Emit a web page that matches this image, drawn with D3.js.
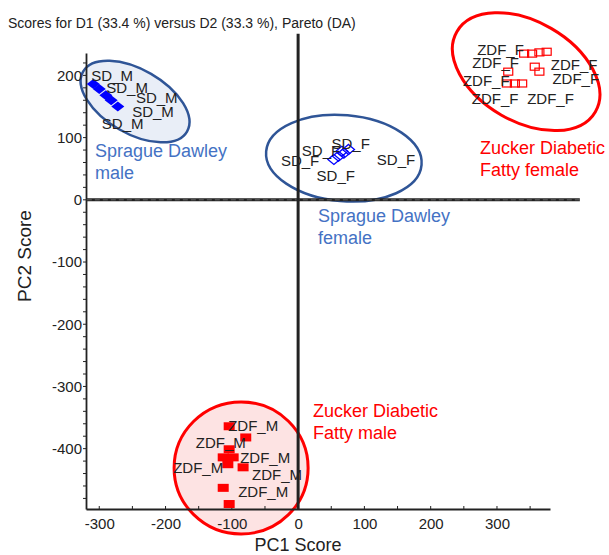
<!DOCTYPE html>
<html>
<head>
<meta charset="utf-8">
<script src="https://cdn.jsdelivr.net/npm/d3@7"></script>
<style>
  body { margin: 0; background: #fff; }
  text { font-family: "Liberation Sans", Arial, sans-serif; }
</style>
</head>
<body>
<svg id="chart" width="609" height="555"></svg>
<script>
// ---- score values (PC1, PC2) per group ----
const sdMaleX    = [-309, -300, -290, -282, -272];
const sdMaleY    = [186, 178, 168, 160, 150];
const sdFemaleX  = [54, 61, 69, 76, 66];
const sdFemaleY  = [65, 70, 75, 81, 78];
const zdfFemaleX = [341, 353, 364, 375, 357, 364, 317, 315, 327, 338];
const zdfFemaleY = [235, 235, 237, 238, 214, 206, 206, 187, 187, 187];
const zdfMaleX   = [-104, -79, -104, -113, -98, -106, -83, -113, -104];
const zdfMaleY   = [-364, -382, -401, -414, -414, -425, -430, -463, -489];

const sampleNames = ["SD_M", "SD_F", "ZDF_F", "ZDF_M"];
const groupTitles = [
  ["Sprague Dawley", "male"],
  ["Sprague Dawley", "female"],
  ["Zucker Diabetic", "Fatty female"],
  ["Zucker Diabetic", "Fatty male"]
];

const xTicks = [-300, -200, -100, 0, 100, 200, 300];
const yTicks = [-400, -300, -200, -100, 0, 100, 200];
const titleText = "Scores for D1 (33.4 %) versus D2 (33.3 %), Pareto (DA)";
const xTitle = "PC1 Score";
const yTitle = "PC2 Score";

// ---- layout ----
const W = 609, H = 555;
const x = d3.scaleLinear().domain([-320, 380]).range([86, 550]);
const y = d3.scaleLinear().domain([-497, 236]).range([509, 53]);

// label offsets (px) from each marker; null = no label drawn
const sdMaleLab    = [[-2, -9], [7, -1], [30, 2], [21, 11], [-16, 17]];
const sdFemaleLab  = [[-53, 1], [-22, 19], [-42, -3], [-17, -6], [35, 8]];
const zdfFemaleLab = [[-47, -4], null, null, null, [16, -2], [13, 7], [-36, -9], [-44, -3], [-43, 15], [5, 15]];
const zdfMaleLab   = [[-1, -1], [-50, 5], null, [-50, 10], [7, 0], null, [9, 7], [15, 4], null];

// group ellipses: centre in score units, radii/rotation in px/deg
const ellipses = [
  { cx: -246, cy: 158, rx: 60, ry: 32, rot: 30, fill: "#e9eef7", stroke: "#2f5597" },
  { cx: 69,   cy: 67,  rx: 78, ry: 43, rot: 5,  fill: "none",    stroke: "#2f5597" },
  { cx: 344,  cy: 206, rx: 80, ry: 50, rot: 30, fill: "none",    stroke: "#ff0000" },
  { cx: -86,  cy: -431, rx: 67, ry: 66, rot: 0, fill: "#fde3e3", stroke: "#ff0000" }
];
const titlePos = [[95, 157], [318, 222], [480, 154], [313, 417]];
const titleColors = ["#4472c4", "#4472c4", "#ff0000", "#ff0000"];

const svg = d3.select("#chart");
svg.append("rect").attr("width", W).attr("height", H).attr("fill", "#fff");

// ellipses
svg.append("g").selectAll("ellipse").data(ellipses).join("ellipse")
  .attr("transform", d => `translate(${x(d.cx)},${y(d.cy)}) rotate(${d.rot})`)
  .attr("rx", d => d.rx).attr("ry", d => d.ry)
  .attr("fill", d => d.fill).attr("stroke", d => d.stroke)
  .attr("stroke-width", (d, i) => i < 2 ? 2.5 : 3);

// axes (plain hyphen for negative tick labels)
const fmt = d => String(d);
const axisColor = "#222";
const xAxis = svg.append("g").attr("transform", `translate(0,${y(-497)})`)
  .call(d3.axisBottom(x).tickValues(xTicks).tickSize(0).tickPadding(9).tickFormat(fmt));
const xMinor = d3.range(-300, 351, 50);
svg.append("g").selectAll("line").data(xMinor).join("line")
  .attr("x1", d => x(d)).attr("x2", d => x(d))
  .attr("y1", y(-497)).attr("y2", y(-497) - 3)
  .attr("stroke", axisColor).attr("stroke-width", 1);

const yAxis = svg.append("g").attr("transform", `translate(${x(-320)},0)`)
  .call(d3.axisLeft(y).tickValues(yTicks).tickSize(0).tickPadding(4).tickFormat(fmt));
const yMinor = d3.range(-480, 231, 20);
svg.append("g").selectAll("line").data(yMinor).join("line")
  .attr("x1", x(-320)).attr("x2", x(-320) - 3)
  .attr("y1", d => y(d)).attr("y2", d => y(d))
  .attr("stroke", axisColor).attr("stroke-width", 1);

[xAxis, yAxis].forEach(g => {
  g.select(".domain").attr("stroke", axisColor).attr("stroke-width", 1.8);
  g.selectAll("text").attr("font-size", 15).attr("fill", "#222")
    .attr("font-family", '"Liberation Sans", Arial, sans-serif');
});

// zero reference lines
svg.append("line")
  .attr("x1", x(-320)).attr("x2", x(425)).attr("y1", y(0)).attr("y2", y(0))
  .attr("stroke", "#222").attr("stroke-width", 3);
svg.append("line")
  .attr("x1", x(425)).attr("x2", x(-320)).attr("y1", y(0)).attr("y2", y(0))
  .attr("stroke", "#777").attr("stroke-width", 0.8).attr("stroke-dasharray", "5,3");
svg.append("line")
  .attr("x1", x(0)).attr("x2", x(0)).attr("y1", y(-497)).attr("y2", y(267))
  .attr("stroke", "#222").attr("stroke-width", 3);

// markers
const diamondFilled = "M0,-5L6.5,0L0,5L-6.5,0Z";
const diamondOpen = "M0,-5L6,0L0,5L-6,0Z";
function pts(xs, ys) { return xs.map((v, i) => ({ x: v, y: ys[i] })); }

svg.append("g").selectAll("path").data(pts(sdMaleX, sdMaleY)).join("path")
  .attr("d", diamondFilled).attr("transform", d => `translate(${x(d.x)},${y(d.y)})`)
  .attr("fill", "#0000ff");
svg.append("g").selectAll("path").data(pts(sdFemaleX, sdFemaleY)).join("path")
  .attr("d", diamondOpen).attr("transform", d => `translate(${x(d.x)},${y(d.y)})`)
  .attr("fill", "none").attr("stroke", "#0000ff").attr("stroke-width", 1.3);
svg.append("g").selectAll("rect").data(pts(zdfFemaleX, zdfFemaleY)).join("rect")
  .attr("x", d => x(d.x) - 4.5).attr("y", d => y(d.y) - 3.5)
  .attr("width", 9).attr("height", 7)
  .attr("fill", "none").attr("stroke", "#ff0000").attr("stroke-width", 1.2);
svg.append("g").selectAll("rect").data(pts(zdfMaleX, zdfMaleY)).join("rect")
  .attr("x", d => x(d.x) - 5.5).attr("y", d => y(d.y) - 4)
  .attr("width", 11).attr("height", 8)
  .attr("fill", "#ff0000");

// sample labels
function labels(xs, ys, offs, name) {
  const data = pts(xs, ys).map((p, i) => ({ ...p, o: offs[i] })).filter(d => d.o);
  svg.append("g").selectAll("text").data(data).join("text")
    .attr("x", d => x(d.x) + d.o[0]).attr("y", d => y(d.y) + d.o[1])
    .attr("dy", "0.36em").attr("font-size", 15).attr("fill", "#222")
    .text(name);
}
labels(sdMaleX, sdMaleY, sdMaleLab, sampleNames[0]);
labels(sdFemaleX, sdFemaleY, sdFemaleLab, sampleNames[1]);
labels(zdfFemaleX, zdfFemaleY, zdfFemaleLab, sampleNames[2]);
labels(zdfMaleX, zdfMaleY, zdfMaleLab, sampleNames[3]);

// group titles
groupTitles.forEach((lines, i) => {
  const t = svg.append("text").attr("x", titlePos[i][0]).attr("y", titlePos[i][1])
    .attr("font-size", 18).attr("fill", titleColors[i]);
  lines.forEach((s, j) => t.append("tspan").attr("x", titlePos[i][0]).attr("dy", j ? 22 : 0).text(s));
});

// titles
svg.append("text").attr("x", 8).attr("y", 28).attr("font-size", 14).attr("fill", "#222").text(titleText);
svg.append("text").attr("x", x(0)).attr("y", 551).attr("text-anchor", "middle")
  .attr("font-size", 18).attr("fill", "#222").text(xTitle);
svg.append("text").attr("transform", "translate(31,256) rotate(-90)").attr("text-anchor", "middle")
  .attr("font-size", 19).attr("fill", "#222").text(yTitle);
</script>
</body>
</html>
